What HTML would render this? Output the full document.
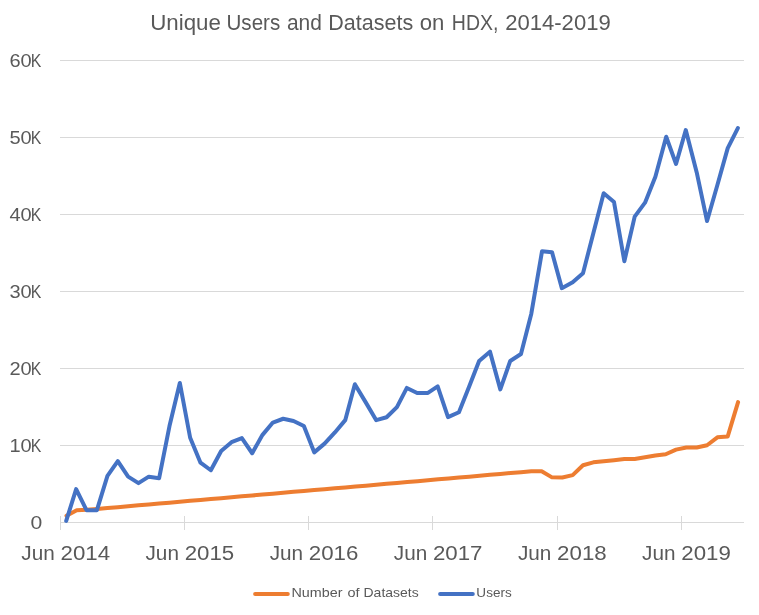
<!DOCTYPE html>
<html><head><meta charset="utf-8"><title>Unique Users and Datasets on HDX, 2014-2019</title>
<style>
html,body{margin:0;padding:0;background:#fff;}
svg{display:block;}
text{font-family:"Liberation Sans",sans-serif;fill:#595959;}
</style></head><body>
<svg width="759" height="615" viewBox="0 0 759 615">
<rect width="759" height="615" fill="#ffffff"/>
<line x1="60" x2="743.6" y1="60.5" y2="60.5" stroke="#d9d9d9" stroke-width="1" shape-rendering="crispEdges"/>
<line x1="60" x2="743.6" y1="137.5" y2="137.5" stroke="#d9d9d9" stroke-width="1" shape-rendering="crispEdges"/>
<line x1="60" x2="743.6" y1="214.5" y2="214.5" stroke="#d9d9d9" stroke-width="1" shape-rendering="crispEdges"/>
<line x1="60" x2="743.6" y1="291.5" y2="291.5" stroke="#d9d9d9" stroke-width="1" shape-rendering="crispEdges"/>
<line x1="60" x2="743.6" y1="368.5" y2="368.5" stroke="#d9d9d9" stroke-width="1" shape-rendering="crispEdges"/>
<line x1="60" x2="743.6" y1="445.5" y2="445.5" stroke="#d9d9d9" stroke-width="1" shape-rendering="crispEdges"/>
<line x1="60" x2="743.6" y1="522.5" y2="522.5" stroke="#d9d9d9" stroke-width="1" shape-rendering="crispEdges"/>
<line x1="60.5" x2="60.5" y1="516" y2="530" stroke="#d9d9d9" stroke-width="1" shape-rendering="crispEdges"/>
<line x1="184.5" x2="184.5" y1="516" y2="530" stroke="#d9d9d9" stroke-width="1" shape-rendering="crispEdges"/>
<line x1="308.5" x2="308.5" y1="516" y2="530" stroke="#d9d9d9" stroke-width="1" shape-rendering="crispEdges"/>
<line x1="432.5" x2="432.5" y1="516" y2="530" stroke="#d9d9d9" stroke-width="1" shape-rendering="crispEdges"/>
<line x1="557.5" x2="557.5" y1="516" y2="530" stroke="#d9d9d9" stroke-width="1" shape-rendering="crispEdges"/>
<line x1="681.5" x2="681.5" y1="516" y2="530" stroke="#d9d9d9" stroke-width="1" shape-rendering="crispEdges"/>
<text y="29.7" font-size="21.2"><tspan x="150.16" textLength="70.70" lengthAdjust="spacingAndGlyphs">Unique</tspan> <tspan x="226.50" textLength="53.70" lengthAdjust="spacingAndGlyphs">Users</tspan> <tspan x="286.91" textLength="34.93" lengthAdjust="spacingAndGlyphs">and</tspan> <tspan x="328.22" textLength="84.97" lengthAdjust="spacingAndGlyphs">Datasets</tspan> <tspan x="419.76" textLength="24.63" lengthAdjust="spacingAndGlyphs">on</tspan> <tspan x="451.79" textLength="46.64" lengthAdjust="spacingAndGlyphs">HDX,</tspan> <tspan x="505.16" textLength="105.57" lengthAdjust="spacingAndGlyphs">2014-2019</tspan></text>
<text y="66.8" font-size="18.5"><tspan x="9.42" textLength="22.28" lengthAdjust="spacingAndGlyphs">60</tspan><tspan x="30.81" textLength="10.58" lengthAdjust="spacingAndGlyphs">K</tspan></text>
<text y="143.8" font-size="18.5"><tspan x="9.42" textLength="22.28" lengthAdjust="spacingAndGlyphs">50</tspan><tspan x="30.81" textLength="10.58" lengthAdjust="spacingAndGlyphs">K</tspan></text>
<text y="220.8" font-size="18.5"><tspan x="9.42" textLength="22.28" lengthAdjust="spacingAndGlyphs">40</tspan><tspan x="30.81" textLength="10.58" lengthAdjust="spacingAndGlyphs">K</tspan></text>
<text y="297.8" font-size="18.5"><tspan x="9.42" textLength="22.28" lengthAdjust="spacingAndGlyphs">30</tspan><tspan x="30.81" textLength="10.58" lengthAdjust="spacingAndGlyphs">K</tspan></text>
<text y="374.8" font-size="18.5"><tspan x="9.42" textLength="22.28" lengthAdjust="spacingAndGlyphs">20</tspan><tspan x="30.81" textLength="10.58" lengthAdjust="spacingAndGlyphs">K</tspan></text>
<text y="451.8" font-size="18.5"><tspan x="9.42" textLength="22.28" lengthAdjust="spacingAndGlyphs">10</tspan><tspan x="30.81" textLength="10.58" lengthAdjust="spacingAndGlyphs">K</tspan></text>
<text y="528.9" font-size="18.5"><tspan x="30.49" textLength="11.78" lengthAdjust="spacingAndGlyphs">0</tspan></text>
<text y="560.2" font-size="20.7"><tspan x="21.35" textLength="33.41" lengthAdjust="spacingAndGlyphs">Jun</tspan> <tspan x="60.52" textLength="49.55" lengthAdjust="spacingAndGlyphs">2014</tspan></text>
<text y="560.2" font-size="20.7"><tspan x="145.50" textLength="33.41" lengthAdjust="spacingAndGlyphs">Jun</tspan> <tspan x="184.67" textLength="49.55" lengthAdjust="spacingAndGlyphs">2015</tspan></text>
<text y="560.2" font-size="20.7"><tspan x="269.65" textLength="33.41" lengthAdjust="spacingAndGlyphs">Jun</tspan> <tspan x="308.82" textLength="49.55" lengthAdjust="spacingAndGlyphs">2016</tspan></text>
<text y="560.2" font-size="20.7"><tspan x="393.80" textLength="33.41" lengthAdjust="spacingAndGlyphs">Jun</tspan> <tspan x="432.97" textLength="49.55" lengthAdjust="spacingAndGlyphs">2017</tspan></text>
<text y="560.2" font-size="20.7"><tspan x="517.95" textLength="33.41" lengthAdjust="spacingAndGlyphs">Jun</tspan> <tspan x="557.12" textLength="49.55" lengthAdjust="spacingAndGlyphs">2018</tspan></text>
<text y="560.2" font-size="20.7"><tspan x="642.10" textLength="33.41" lengthAdjust="spacingAndGlyphs">Jun</tspan> <tspan x="681.27" textLength="49.55" lengthAdjust="spacingAndGlyphs">2019</tspan></text>
<text y="597.4" font-size="13.4"><tspan x="291.53" textLength="51.02" lengthAdjust="spacingAndGlyphs">Number</tspan> <tspan x="347.46" textLength="12.06" lengthAdjust="spacingAndGlyphs">of</tspan> <tspan x="363.56" textLength="55.06" lengthAdjust="spacingAndGlyphs">Datasets</tspan></text>
<text y="597.4" font-size="13.4"><tspan x="476.39" textLength="35.28" lengthAdjust="spacingAndGlyphs">Users</tspan></text>
<polyline fill="none" stroke="#ed7d31" stroke-width="4" stroke-linejoin="round" stroke-linecap="round" points="66.50,515.75 76.74,510.35 86.78,509.85 97.11,508.95 107.45,508.05 117.79,507.15 128.13,506.25 138.47,505.35 148.80,504.45 159.14,503.55 169.48,502.65 179.82,501.75 190.16,500.85 200.49,499.95 210.83,499.05 221.17,498.15 231.51,497.25 241.85,496.35 252.18,495.45 262.52,494.55 272.86,493.65 283.20,492.75 293.54,491.85 303.87,490.95 314.21,490.05 324.55,489.15 334.89,488.25 345.23,487.45 355.56,486.55 365.90,485.65 376.24,484.75 386.58,483.85 396.92,482.95 407.25,482.05 417.59,481.15 427.93,480.25 438.27,479.35 448.61,478.45 458.94,477.55 469.28,476.65 479.62,475.75 489.96,474.85 500.30,473.95 510.63,473.05 520.97,472.15 531.31,471.25 541.65,471.25 551.99,477.35 562.32,477.45 572.66,475.15 583.00,465.25 593.34,462.35 603.68,461.15 614.01,460.15 624.35,458.95 634.69,458.95 645.03,457.25 655.37,455.45 665.70,454.25 676.04,449.65 686.38,447.55 696.72,447.55 707.06,445.25 717.39,437.35 727.73,436.45 738.07,402.15"/>
<polyline fill="none" stroke="#4472c4" stroke-width="4" stroke-linejoin="round" stroke-linecap="round" points="66.20,520.95 76.14,489.15 86.48,510.15 96.91,510.15 107.45,475.85 117.79,461.15 128.13,476.65 138.47,483.15 148.80,476.65 159.14,478.15 169.48,426.05 179.82,382.95 190.16,437.75 200.49,462.65 210.83,470.25 221.17,450.95 231.51,442.15 241.85,438.15 252.18,453.25 262.52,434.85 272.86,422.55 283.20,418.75 293.54,421.05 303.87,426.05 314.21,452.35 324.55,443.65 334.89,432.45 345.23,420.15 354.86,384.25 365.90,402.65 376.24,420.15 386.58,417.25 396.92,407.05 406.85,387.95 417.19,392.95 427.93,392.95 437.67,386.45 448.01,417.15 458.94,412.25 469.28,386.15 479.12,360.95 489.96,351.65 500.30,389.35 510.23,360.95 520.97,354.05 531.31,313.65 542.05,251.15 551.99,252.15 561.82,288.15 572.66,282.15 583.00,273.15 593.34,233.35 603.68,193.25 614.01,202.05 624.35,261.25 634.69,216.65 645.03,202.65 655.37,176.85 666.20,136.75 676.04,163.95 685.78,130.05 696.72,172.45 707.06,221.05 717.39,185.05 727.73,148.15 737.87,128.05"/>
<line x1="255.1" x2="287.8" y1="593.9" y2="593.9" stroke="#ed7d31" stroke-width="4" stroke-linecap="round"/>
<line x1="440.1" x2="472.8" y1="593.9" y2="593.9" stroke="#4472c4" stroke-width="4" stroke-linecap="round"/>
</svg>
</body></html>
